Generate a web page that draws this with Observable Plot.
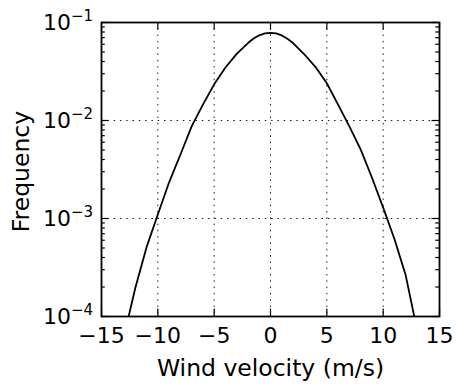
<!DOCTYPE html>
<html><head><meta charset="utf-8">
<script src="https://cdn.jsdelivr.net/npm/d3@7"></script>
<script src="https://cdn.jsdelivr.net/npm/@observablehq/plot@0.6"></script>
<style>body{margin:0;background:#fff} svg{display:block}</style>
</head><body><div id="chart"></div>
<script>
const velocity = [-13, -12, -11, -10, -9, -8, -7, -6, -5, -4, -3, -2, -1.5, -1, -0.5, 0, 0.5, 1, 1.5, 2, 3, 4, 5, 6, 7, 8, 9, 10, 11, 12, 13];
const frequency = [6.3e-5, 1.95e-4, 5.1e-4, 1.10e-3, 2.34e-3, 4.47e-3, 8.7e-3, 0.0145, 0.0234, 0.0347, 0.0479, 0.0617, 0.0686, 0.0740, 0.0774, 0.0785,
                   0.0773, 0.0738, 0.0684, 0.0617, 0.0474, 0.0351, 0.0240, 0.0145, 0.0087, 0.00508, 0.00262, 0.00129, 0.000617, 0.000263, 7.4e-5];
const xTicks = [-15, -10, -5, 0, 5, 10, 15];
const xTickLabels = ["−15", "−10", "−5", "0", "5", "10", "15"];
const yTicks = [1e-4, 1e-3, 1e-2, 1e-1];
const yTickBase = "10";
const yTickExponents = ["−4", "−3", "−2", "−1"];
const yMinorTicks = [2e-4,3e-4,4e-4,5e-4,6e-4,7e-4,8e-4,9e-4,
                     2e-3,3e-3,4e-3,5e-3,6e-3,7e-3,8e-3,9e-3,
                     2e-2,3e-2,4e-2,5e-2,6e-2,7e-2,8e-2,9e-2];
const xLabel = "Wind velocity (m/s)";
const yLabel = "Frequency";

const data = velocity.map((v, i) => ({v, f: frequency[i]}));

const W = 456, H = 385, mL = 101, mR = 17, mT = 22, mB = 69;
const fw = W - mL - mR, fh = H - mT - mB;
const major = 7.5, minor = 3.8;
const gridStyle = {stroke: "black", strokeWidth: 0.9, strokeDasharray: "1.5,4.8"};
const tickStyle = {stroke: "black", strokeWidth: 1.2};

const chart = Plot.plot({
  width: W, height: H,
  marginLeft: mL, marginRight: mR, marginTop: mT, marginBottom: mB,
  style: {fontFamily: "DejaVu Sans", fontSize: "22px", background: "white", color: "black"},
  x: {domain: [-15, 15], label: null},
  y: {type: "log", domain: [1e-4, 1e-1], label: null, axis: null},
  marks: [
    Plot.ruleX(xTicks.slice(1, -1), gridStyle),
    Plot.ruleY(yTicks.slice(1, -1), gridStyle),
    Plot.line(data, {x: "v", y: "f", stroke: "black", strokeWidth: 1.8, clip: true}),
    // inward ticks
    Plot.tickX(xTicks, {x: d => d, insetTop: fh - major, ...tickStyle}),
    Plot.tickX(xTicks, {x: d => d, insetBottom: fh - major, ...tickStyle}),
    Plot.tickY(yTicks, {y: d => d, insetRight: fw - major, ...tickStyle}),
    Plot.tickY(yTicks, {y: d => d, insetLeft: fw - major, ...tickStyle}),
    Plot.tickY(yMinorTicks, {y: d => d, insetRight: fw - minor, ...tickStyle}),
    Plot.tickY(yMinorTicks, {y: d => d, insetLeft: fw - minor, ...tickStyle}),
    Plot.frame({stroke: "black", strokeWidth: 1.8}),
    Plot.axisX(xTicks, {tickSize: 0, tickPadding: 11, label: null, fontSize: 22,
      tickFormat: d => xTickLabels[xTicks.indexOf(d)]}),
    // y tick labels: 10 with superscript exponent
    Plot.text(yTicks, {y: d => d, frameAnchor: "left", text: () => yTickBase, textAnchor: "end",
      lineAnchor: "middle", dx: -30.5, dy: 0.5, fontSize: 22}),
    Plot.text(yTicks, {y: d => d, frameAnchor: "left", text: (d, i) => yTickExponents[i], textAnchor: "start",
      lineAnchor: "middle", dx: -30.5, dy: -6.5, fontSize: 15}),
    Plot.text([xLabel], {text: d => d, frameAnchor: "bottom", textAnchor: "middle", lineAnchor: "top", dy: 43, fontSize: 23.5}),
    Plot.text([yLabel], {text: d => d, frameAnchor: "left", rotate: -90, textAnchor: "middle", lineAnchor: "middle", dx: -80, dy: 2, fontSize: 23.5})
  ]
});
document.getElementById("chart").appendChild(chart);
</script>
</body></html>
